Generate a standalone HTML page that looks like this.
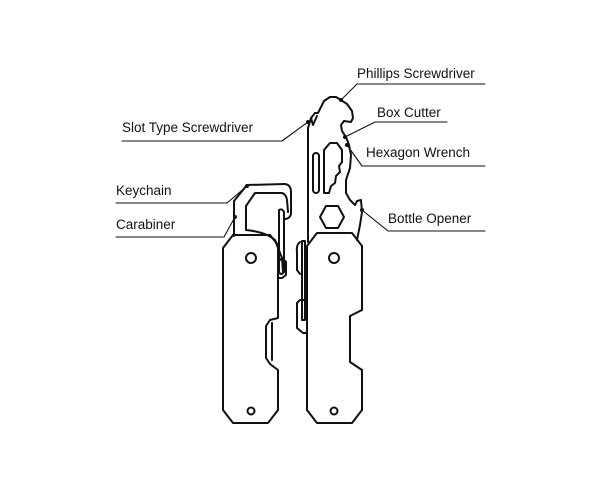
<!DOCTYPE html>
<html><head><style>
body{margin:0;background:#fff;}
svg{display:block;}
text{font-family:"Liberation Sans",sans-serif;font-size:13.5px;fill:#111;}
</style></head><body>
<svg width="600" height="490" viewBox="0 0 600 490" xmlns="http://www.w3.org/2000/svg">
<g fill="none" stroke="#111" stroke-width="2" stroke-linejoin="round" stroke-linecap="round">
<!-- carabiner -->
<path d="M234,236 L234,201 L247,185 L285,184 Q291,185 291,192 L291,214 Q290,218 286,219 L284,219"/>
<path d="M246,230 L246,206 L255,193 L282,193 Q286,194 287,200 L288,212"/>
<path d="M246,230 Q266,232 275,240 L282,258 L283,272"/>
<path d="M279,210 L279,272 Q281,276 284,272 L284,212 Q282,208 279,210"/>
<!-- tool head -->
<path d="M308,242 L308,128 L311,118 L315,113 L318,113 L324,101 L330,97 L336,97 L341,100 L347,104 L352,111 L353,118 L351,122 L344,121 L341,125 L342,131 L346,137 L349,145 L351,155 L350,168 L346,180 L346,193 L350,200 L355,205 L357,201 L361,200 L362,212 L360,225 L357,240"/>
<path d="M311,118 L313,125 L317,116"/>
<rect x="313" y="153" width="6" height="40" rx="3"/>
<path d="M324,150 L330,143 L337,143 L342,150 L342,162 L339,166 L340,172 L336,176 L335,183 L331,186 L329,193 L324,193 Z"/>
<path d="M326,206 L338,206 L344,217 L338,228 L326,228 L320,217 Z"/>
<!-- left handle -->
<path d="M233,235 L270,235 L278,245 L278,318 L270,320 L266,326 L266,358 L270,364 L278,370 L278,410 L268,423 L233,423 L223,410 L223,248 Z"/>
<path d="M272,323 L272,360"/>
<circle cx="251" cy="258" r="5"/>
<circle cx="251" cy="411" r="3.5"/>
<path d="M278,262 L282,258 L286,262 L286,275 L282,278 L278,278"/>
<!-- right handle -->
<path d="M317,233 L352,233 L362,246 L362,310 L350,316 L350,362 L362,370 L362,410 L352,423 L317,423 L307,410 L307,246 Z"/>
<circle cx="334" cy="258" r="5"/>
<circle cx="334" cy="411" r="3.5"/>
<path d="M300,242 Q296,245 297,252 L297,270 L300,274"/>
<path d="M302,241 L305,241 L305,320 L302,320 Z"/>
<path d="M304,300 L300,300 L297,303 L297,328 L303,333 L307,333"/>
<!-- leader lines -->
<g stroke-width="1.1">
<polyline points="122,141 282,141 308,122"/>
<polyline points="116,203 227,203 247,186"/>
<polyline points="116,237 224,237 235,217"/>
<polyline points="485,84 357,84 341,100"/>
<polyline points="447,122 375,122 345,137"/>
<polyline points="485,166 362,166 347,145"/>
<polyline points="485,231 388,231 362,210"/>
</g>
</g>
<g fill="#111">
<circle cx="308" cy="122" r="2"/><circle cx="247" cy="186" r="2"/><circle cx="235" cy="217" r="2"/>
<circle cx="341" cy="100" r="2"/><circle cx="345" cy="137" r="2"/><circle cx="347" cy="145" r="2"/><circle cx="362" cy="210" r="2"/>
</g>
<text x="122" y="132">Slot Type Screwdriver</text>
<text x="116" y="195">Keychain</text>
<text x="116" y="229">Carabiner</text>
<text x="357" y="78">Phillips Screwdriver</text>
<text x="377" y="117">Box Cutter</text>
<text x="366" y="157">Hexagon Wrench</text>
<text x="388" y="223">Bottle Opener</text>
</svg>
</body></html>
